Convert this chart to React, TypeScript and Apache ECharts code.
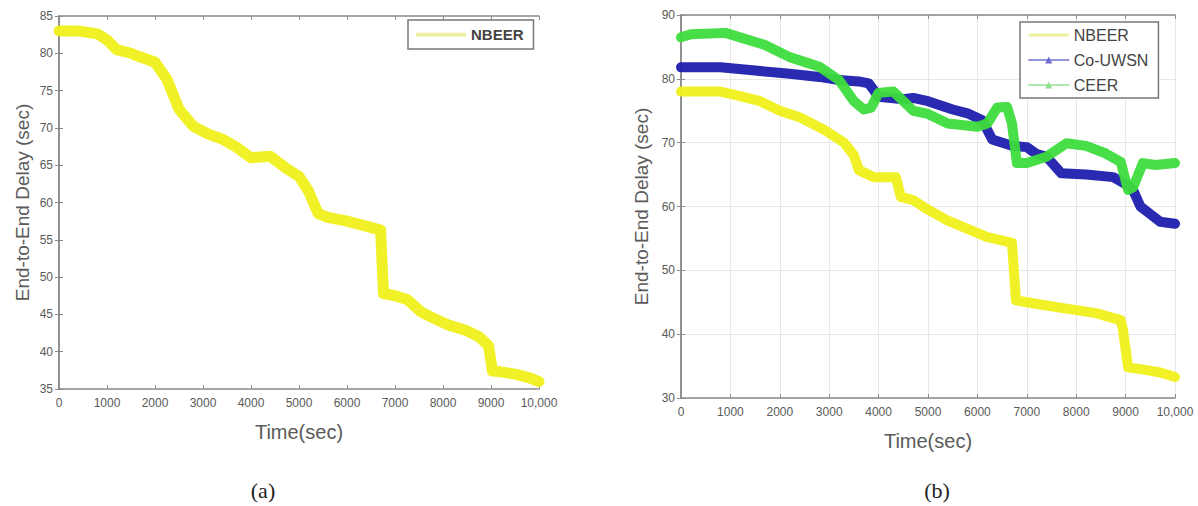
import React, { useEffect, useRef } from "react";
import * as echarts from "echarts";

// ---- data ----
const leftNbeerX = [0, 400, 800, 1000, 1200, 1500, 1700, 2000, 2250, 2500, 2800, 3100, 3400, 3700, 4000, 4400, 4750, 5000, 5200, 5400, 5600, 6000, 6300, 6700, 6760, 7000, 7250, 7550, 7800, 8100, 8500, 8750, 8950, 9030, 9200, 9500, 9800, 10000];
const leftNbeerY = [83, 83, 82.6, 81.8, 80.5, 80, 79.5, 78.8, 76.5, 72.5, 70.2, 69.2, 68.5, 67.4, 66, 66.2, 64.5, 63.5, 61.5, 58.5, 58, 57.5, 57, 56.3, 47.8, 47.5, 47, 45.3, 44.5, 43.6, 42.8, 42, 40.8, 37.4, 37.3, 37, 36.5, 36];

const rightNbeerX = [0, 800, 1200, 1600, 2000, 2400, 2900, 3300, 3500, 3600, 3900, 4350, 4450, 4700, 5000, 5400, 5800, 6200, 6600, 6700, 6780, 7000, 7400, 7800, 8400, 8900, 8950, 9050, 9400, 9700, 10000];
const rightNbeerY = [78, 78, 77.3, 76.5, 75, 74, 72, 70, 68, 65.7, 64.6, 64.6, 61.5, 61, 59.5, 57.8, 56.5, 55.2, 54.5, 54.3, 45.3, 45, 44.5, 44, 43.3, 42.2, 40.5, 34.8, 34.4, 34, 33.3];

const couwsnX = [0, 800, 1500, 2200, 2800, 3200, 3600, 3800, 4000, 4500, 4700, 5000, 5500, 5800, 6100, 6300, 6700, 7000, 7200, 7400, 7700, 8200, 8750, 9000, 9150, 9300, 9500, 9700, 10000];
const couwsnY = [81.8, 81.8, 81.3, 80.8, 80.3, 79.8, 79.6, 79.3, 77.2, 76.8, 77, 76.5, 75.2, 74.6, 73.5, 70.5, 69.5, 69.3, 68.2, 67.8, 65.2, 65, 64.6, 63.5, 62.6, 60, 58.8, 57.6, 57.3];

const ceerX = [0, 200, 900, 1700, 2200, 2800, 3200, 3500, 3700, 3850, 4000, 4300, 4500, 4700, 5000, 5400, 6000, 6200, 6400, 6600, 6700, 6800, 7000, 7400, 7800, 8200, 8600, 8900, 9050, 9150, 9350, 9600, 10000];
const ceerY = [86.5, 87, 87.2, 85.3, 83.4, 81.9, 79.8, 76.5, 75.2, 75.5, 77.8, 78, 76.5, 75, 74.5, 73, 72.5, 73, 75.5, 75.6, 73, 66.8, 66.8, 67.8, 69.9, 69.5, 68.3, 67, 62.6, 63, 66.8, 66.5, 66.8];

const seriesNames = ["NBEER", "Co-UWSN", "CEER"];
const yLabelTitle = "End-to-End Delay (sec)";
const xLabelTitle = "Time(sec)";
const captions = ["(a)", "(b)"];

const zip = (xs: number[], ys: number[]) => xs.map((x, i) => [x, ys[i]]);

const YELLOW = "#f0f01c";
const BLUE = "#1e1eae";
const GREEN = "#3ddc3d";
const AXIS = "#8a8a8a";
const LABEL = "#5a5a5a";
const FONT = "Liberation Sans, Arial, sans-serif";
const BAR_ICON = "path://M0,0 L40,0 L40,3 L0,3 Z";

export default function App() {
  const ref = useRef<HTMLDivElement>(null);
  useEffect(() => {
    document.body.style.margin = "0";
    const chart = echarts.init(ref.current!, null, { renderer: "svg" });

    const xFmt = (v: number) => (v === 10000 ? "10,000" : String(v));
    const mainX = (grid: number) => ({
      type: "value",
      gridIndex: grid,
      min: 0,
      max: 10000,
      interval: 1000,
      name: xLabelTitle,
      nameLocation: "middle",
      nameGap: 33,
      nameTextStyle: { fontSize: 20, color: LABEL, fontFamily: FONT },
      axisLine: { lineStyle: { color: AXIS, width: 1.5 } },
      axisTick: { inside: true, length: 4, lineStyle: { color: AXIS } },
      axisLabel: { fontSize: 12, color: LABEL, fontFamily: FONT, margin: 8, formatter: xFmt },
      splitLine: grid === 1 ? { show: true, lineStyle: { color: "#e8e8e8" } } : { show: false },
    });
    const boxX = (grid: number) => ({
      type: "value",
      gridIndex: grid,
      position: "top",
      min: 0,
      max: 10000,
      interval: 1000,
      axisLine: { lineStyle: { color: AXIS, width: 1.5 } },
      axisTick: { inside: true, length: 4, lineStyle: { color: AXIS } },
      axisLabel: { show: false },
      splitLine: { show: false },
    });
    const mainY = (grid: number, min: number, max: number, interval: number, gap: number) => ({
      type: "value",
      gridIndex: grid,
      min,
      max,
      interval,
      name: yLabelTitle,
      nameLocation: "middle",
      nameGap: gap,
      nameTextStyle: { fontSize: 19, color: LABEL, fontFamily: FONT },
      axisLine: { show: true, lineStyle: { color: AXIS, width: 1.5 } },
      axisTick: { show: true, inside: true, length: 4, lineStyle: { color: AXIS } },
      axisLabel: { fontSize: 12, color: LABEL, fontFamily: FONT, margin: 6 },
      splitLine: grid === 1 ? { show: true, lineStyle: { color: "#e8e8e8" } } : { show: false },
    });
    const boxY = (grid: number, min: number, max: number, interval: number) => ({
      type: "value",
      gridIndex: grid,
      position: "right",
      min,
      max,
      interval,
      axisLine: { show: true, lineStyle: { color: AXIS, width: 1.5 } },
      axisTick: { show: true, inside: true, length: 4, lineStyle: { color: AXIS } },
      axisLabel: { show: false },
      splitLine: { show: false },
    });

    const lineSeries = (name: string, data: number[][], color: string, xi: number, yi: number, width: number, symbol: string) => ({
      type: "line",
      name,
      data,
      xAxisIndex: xi,
      yAxisIndex: yi,
      symbol,
      symbolSize: 8,
      showSymbol: false,
      itemStyle: { color },
      lineStyle: { color, width, cap: "round", join: "round", opacity: 0.95 },
      z: 3,
    });

    const legendText = { fontSize: 15, color: "#444", fontWeight: "bold", fontFamily: FONT };

    chart.setOption({
      animation: false,
      backgroundColor: "#ffffff",
      grid: [
        { left: 59, top: 16, width: 480, height: 373 },
        { left: 681, top: 15, width: 494, height: 383 },
      ],
      xAxis: [mainX(0), boxX(0), mainX(1), boxX(1)],
      yAxis: [mainY(0, 35, 85, 5, 27), boxY(0, 35, 85, 5), mainY(1, 30, 90, 10, 30), boxY(1, 30, 90, 10)],
      legend: [
        {
          left: 408,
          top: 20,
          orient: "vertical",
          padding: [7, 10, 7, 8],
          itemWidth: 50,
          itemHeight: 10,
          borderColor: "#777",
          borderWidth: 1.5,
          backgroundColor: "#fff",
          textStyle: legendText,
          data: [{ name: seriesNames[0], icon: BAR_ICON, itemStyle: { color: "#eef0a0" } }],
        },
        {
          left: 1020,
          top: 22,
          orient: "vertical",
          padding: [5, 10, 5, 8],
          itemGap: 9,
          itemWidth: 40,
          itemHeight: 9,
          borderColor: "#777",
          borderWidth: 1.5,
          backgroundColor: "#fff",
          textStyle: { ...legendText, fontWeight: "normal", fontSize: 16 },
          lineStyle: { width: 1.5 },
          data: [
            { name: seriesNames[0], icon: BAR_ICON, itemStyle: { color: "#eef0a0" } },
            { name: seriesNames[1], lineStyle: { color: "#6a6ad0" }, itemStyle: { color: "#6a6ad0" } },
            { name: seriesNames[2], lineStyle: { color: "#8fe08f" }, itemStyle: { color: "#8fe08f" } },
          ],
        },
      ],
      series: [
        lineSeries(seriesNames[0], zip(leftNbeerX, leftNbeerY), YELLOW, 0, 0, 11, "none"),
        lineSeries(seriesNames[0], zip(rightNbeerX, rightNbeerY), YELLOW, 2, 2, 10, "none"),
        lineSeries(seriesNames[1], zip(couwsnX, couwsnY), BLUE, 2, 2, 10, "triangle"),
        lineSeries(seriesNames[2], zip(ceerX, ceerY), GREEN, 2, 2, 10, "triangle"),
      ],
      graphic: [
        {
          type: "text",
          x: 263,
          y: 490,
          style: { text: captions[0], fontSize: 22, fontFamily: "Liberation Serif, DejaVu Serif, serif", fill: "#222", textAlign: "center", textVerticalAlign: "middle" },
        },
        {
          type: "text",
          x: 937,
          y: 490,
          style: { text: captions[1], fontSize: 22, fontFamily: "Liberation Serif, DejaVu Serif, serif", fill: "#222", textAlign: "center", textVerticalAlign: "middle" },
        },
      ],
    });
    return () => chart.dispose();
  }, []);
  return <div ref={ref} style={{ width: 1198, height: 506 }} />;
}
